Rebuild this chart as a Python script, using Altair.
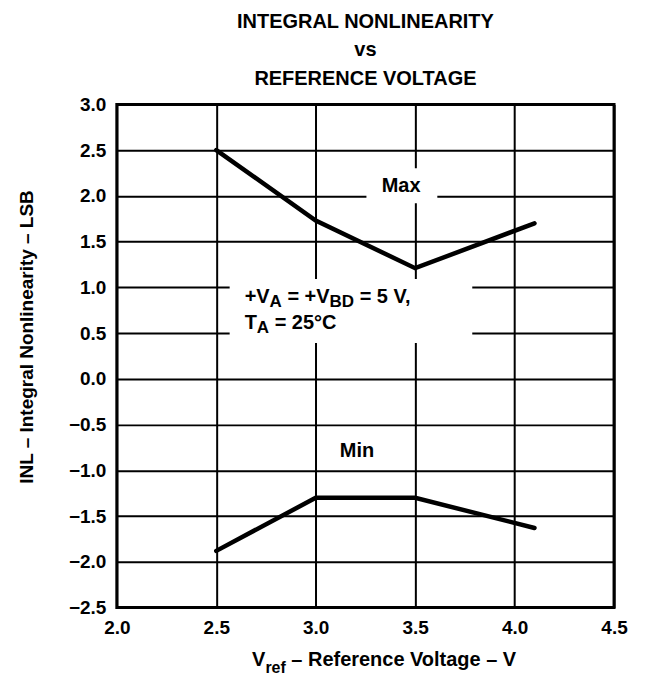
import altair as alt
import pandas as pd

# ---- data ----
vref = [2.5, 3.0, 3.5, 4.1]
inl_max = [2.50, 1.73, 1.21, 1.70]
inl_min = [-1.88, -1.30, -1.30, -1.63]

x_ticks = [2.0, 2.5, 3.0, 3.5, 4.0, 4.5]
y_ticks = [-2.5, -2.0, -1.5, -1.0, -0.5, 0.0, 0.5, 1.0, 1.5, 2.0, 2.5, 3.0]

title_lines = ["INTEGRAL NONLINEARITY", "vs", "REFERENCE VOLTAGE"]
y_title = "INL – Integral Nonlinearity – LSB"
x_title_parts = [("V", False), ("ref", True), (" – Reference Voltage – V", False)]
cond_line1 = [("+V", False), ("A", True), (" = +V", False), ("BD", True), (" = 5 V,", False)]
cond_line2 = [("T", False), ("A", True), (" = 25°C", False)]

FONT = "Liberation Sans"
W, H = 498, 504
X0, X1 = 2.0, 4.5
Y0, Y1 = -2.5, 3.0


def px_x(px):
    return X0 + px / W * (X1 - X0)


def px_y(py):
    return Y1 - py / H * (Y1 - Y0)


# Arial/Liberation Sans Bold advance widths (per 1000 em)
CW = {" ": 278, "+": 584, "=": 584, ",": 278, ".": 278, "°": 400, "–": 556,
      "A": 722, "B": 722, "C": 722, "D": 722, "E": 667, "F": 611, "G": 778,
      "I": 278, "L": 611, "M": 833, "N": 722, "O": 778, "R": 722, "S": 667,
      "T": 611, "V": 667, "Y": 667,
      "a": 556, "c": 556, "e": 556, "f": 333, "g": 611, "i": 278, "l": 278,
      "n": 611, "o": 611, "r": 389, "t": 333, "x": 556, "y": 556}
for d in "0123456789":
    CW[d] = 556


def tw(s, fs):
    return sum(CW.get(c, 556) for c in s) * fs / 1000.0


def layout(start_px, base_py, sub_dy, parts, fs, sfs):
    rows = []
    cur = start_px
    for text, sub in parts:
        size = sfs if sub else fs
        lead = len(text) - len(text.lstrip(" "))
        rows.append({"x": px_x(cur + lead * tw(" ", size)),
                     "y": px_y(base_py + (sub_dy if sub else 0)),
                     "t": text.strip(" "), "fs": size})
        cur += tw(text, size)
    return rows


# text segments (positions relative to the plot area, in px -> data units)
seg_rows = []
seg_rows += layout(128, 199.3, 4, cond_line1, 20, 17)
seg_rows += layout(128, 225.3, 4, cond_line2, 20, 17)
xt_fs, xt_sfs = 20, 16
xt_w = sum(tw(t, xt_sfs if s else xt_fs) for t, s in x_title_parts)
seg_rows += layout(268.5 - xt_w / 2, 563, 7, x_title_parts, xt_fs, xt_sfs)
seg_df = pd.DataFrame(seg_rows)

label_df = pd.DataFrame({
    "x": [px_x(284.7), px_x(240.5)],
    "y": [px_y(87.7), px_y(352.7)],
    "t": ["Max", "Min"],
})

mask_df = pd.DataFrame({
    "x": [px_x(250), px_x(113)],
    "x2": [px_x(321), px_x(356)],
    "y": [px_y(64), px_y(175)],
    "y2": [px_y(99), px_y(239)],
})

line_df = pd.DataFrame({
    "vref": vref + vref,
    "inl": inl_max + inl_min,
    "series": ["Max"] * len(vref) + ["Min"] * len(vref),
})

xscale = alt.Scale(domain=[X0, X1], nice=False, zero=False)
yscale = alt.Scale(domain=[Y0, Y1], nice=False, zero=False)

x_axis = alt.Axis(values=x_ticks, format=".1f", title=None, grid=True,
                  gridColor="black", gridWidth=2, gridOpacity=1,
                  ticks=False, tickSize=0, domain=False,
                  labelFont=FONT, labelFontSize=19, labelFontWeight="bold",
                  labelColor="black", labelPadding=11, labelFlush=False,
                  labelOverlap=False)
y_axis = alt.Axis(values=y_ticks, format=".1f", title=y_title, grid=True,
                  gridColor="black", gridWidth=2, gridOpacity=1,
                  ticks=False, tickSize=0, domain=False,
                  labelFont=FONT, labelFontSize=19, labelFontWeight="bold",
                  labelColor="black", labelPadding=11, labelFlush=False,
                  labelOverlap=False,
                  titleFont=FONT, titleFontSize=19, titleFontWeight="bold",
                  titleColor="black", titleX=-84, titleY=232.5, titleAngle=270,
                  titleAlign="center", titleBaseline="alphabetic")


def X(f):
    return alt.X(f, type="quantitative", scale=xscale, axis=x_axis)


def Y(f):
    return alt.Y(f, type="quantitative", scale=yscale, axis=y_axis)


masks = alt.Chart(mask_df).mark_rect(fill="white", stroke=None).encode(
    x=X("x"), x2="x2", y=Y("y"), y2="y2")

lines = alt.Chart(line_df).mark_line(color="black", strokeWidth=4.5,
                                     strokeCap="round").encode(
    x=X("vref"), y=Y("inl"), detail="series:N")

segs = alt.Chart(seg_df).mark_text(align="left", baseline="alphabetic",
                                   font=FONT, fontWeight="bold",
                                   color="black").encode(
    x=X("x"), y=Y("y"), text="t:N", size=alt.Size("fs:Q", scale=None))

labels = alt.Chart(label_df).mark_text(align="center", baseline="alphabetic",
                                       font=FONT, fontWeight="bold",
                                       fontSize=20, color="black").encode(
    x=X("x"), y=Y("y"), text="t:N")

chart = alt.layer(masks, lines, segs, labels).properties(
    width=W, height=H,
    title=alt.TitleParams(text=title_lines, font=FONT, fontSize=20,
                          fontWeight="bold", color="black", anchor="middle",
                          frame="group", baseline="bottom", lineHeight=29,
                          offset=-14),
    padding={"left": 109, "top": 96, "right": 25, "bottom": 75},
    autosize=alt.AutoSizeParams(type="none"),
).configure_view(stroke="black", strokeWidth=3)

chart.save("out.html", embed_options={"renderer": "svg", "actions": False})
